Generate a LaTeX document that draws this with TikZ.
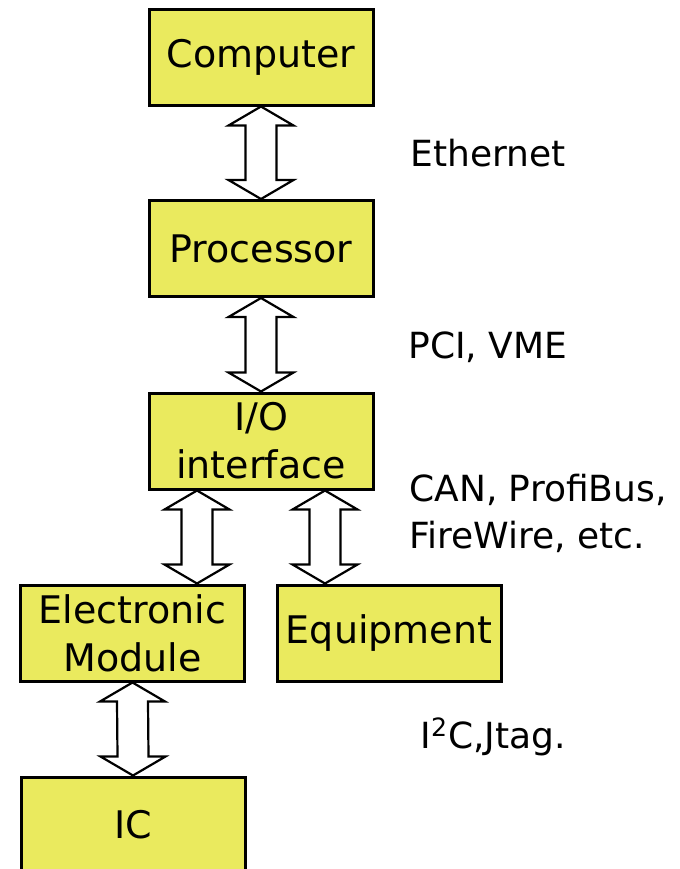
\documentclass[tikz,border=0pt]{standalone}
\usepackage{fontspec}
\setmainfont{DejaVu Sans}
\usetikzlibrary{calc, positioning}
\definecolor{boxyellow}{RGB}{234,234,94}

% hollow two-headed bus arrow, tip to tip
\newcommand\busarrow[2]{%
  \draw[bus] (#1) -- ($(#1)+(32.5,19)$) -- ($(#1)+(15.5,19)$) -- ($(#2)+(15.5,-19)$)
    -- ($(#2)+(32.5,-19)$) -- (#2) -- ($(#2)+(-32.5,-19)$) -- ($(#2)+(-15.5,-19)$)
    -- ($(#1)+(-15.5,19)$) -- ($(#1)+(-32.5,19)$) -- cycle;}

\begin{document}
\begin{tikzpicture}[
  x=0.5pt, y=-0.5pt,
  blk/.style={rectangle,fill=boxyellow,draw=black,line width=1.5pt,minimum width=112pt,minimum height=48pt,inner sep=0pt,align=center,font=\fontsize{19}{24}\selectfont},
  bus/.style={draw=black,fill=white,line width=1.1pt,line join=miter},
  lbl/.style={anchor=west,align=left,inner sep=0pt,font=\fontsize{18}{23.5}\selectfont}
]
  \useasboundingbox (0,0) rectangle (680,869);
  \node[blk] (pc)  at (261,57)    {Computer};
  \node[blk] (cpu) at (261,248.5) {Processor};
  \node[blk] (io)  at (261,441)   {I/O\\interface};
  \node[blk] (em)  at (132.5,633) {Electronic\\Module};
  \node[blk] (eq)  at (389,633)   {Equipment};
  \node[blk] (ic)  at (133,825)   {IC};

  \coordinate (ioL) at ($(io.south)+(-64,0)$);
  \coordinate (ioR) at ($(io.south)+(64,0)$);
  \coordinate (emT) at (ioL |- em.north);
  \coordinate (eqT) at (ioR |- eq.north);

  \busarrow{pc.south}{cpu.north}
  \busarrow{cpu.south}{io.north}
  \busarrow{ioL}{emT}
  \busarrow{ioR}{eqT}
  \busarrow{em.south}{ic.north}

  \node[lbl] (eth) at (410,153) {Ethernet};
  \node[lbl] (pci) at (408,347) {PCI, VME};
  \node[lbl] (can) at (409,513) {CAN, ProfiBus,\\FireWire, etc.};
  \node[lbl] (i2c) at (420,737) {I\textsuperscript{2}C,Jtag.};
\end{tikzpicture}
\end{document}
